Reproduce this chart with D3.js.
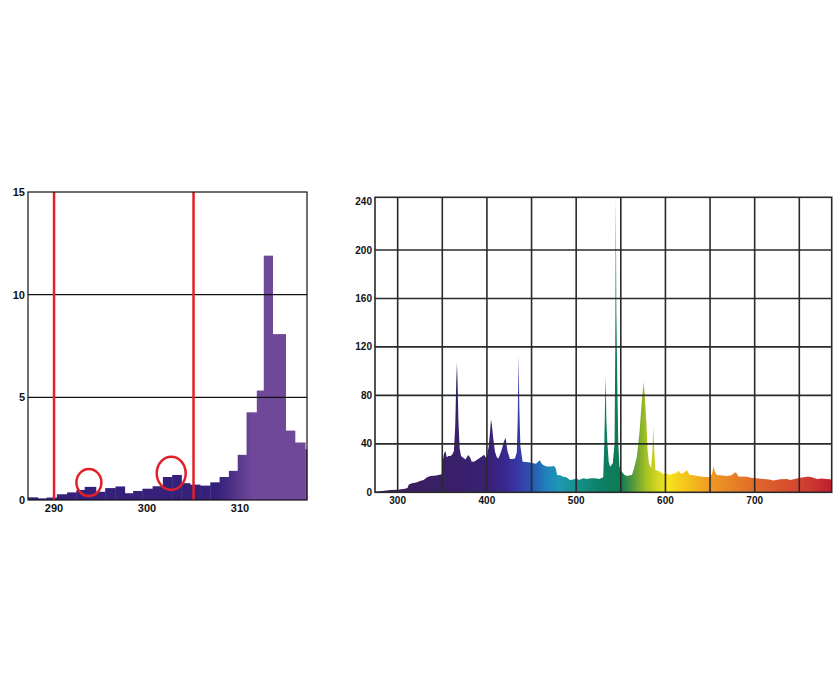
<!DOCTYPE html>
<html>
<head>
<meta charset="utf-8">
<script src="https://cdn.jsdelivr.net/npm/d3@7/dist/d3.min.js"></script>
<style>
  html, body { margin: 0; padding: 0; background: #fff; }
  text { font-family: "Liberation Sans", Arial, sans-serif; font-weight: bold; fill: #111; }
</style>
</head>
<body>
<svg id="chart" width="840" height="700"></svg>
<script>
// ---------- LEFT CHART DATA (UV-B histogram) ----------
const binEdges = [287.2, 288.25, 289.2, 290.3, 291.4, 292.4, 293.3, 294.5, 295.5, 296.6, 297.6, 298.5, 299.5, 300.6, 301.7, 302.7, 303.7, 304.6, 305.7, 306.8, 307.8, 308.8, 309.75, 310.7, 311.8, 312.55, 313.5, 314.9, 315.9, 317.0, 317.2];
const binValues = [0.13, 0.08, 0.12, 0.28, 0.37, 0.49, 0.64, 0.40, 0.58, 0.66, 0.33, 0.44, 0.55, 0.67, 1.12, 1.22, 0.82, 0.75, 0.70, 0.86, 1.12, 1.42, 2.2, 4.27, 5.33, 11.9, 8.08, 3.38, 2.8, 2.47];
const leftYTicks = [0, 5, 10, 15];
const leftYGrid = [5, 10];
const leftXTicks = [290, 300, 310];
const markerLines = [290, 305];
const circleX = [293.75, 302.6];
const circleY = [0.85, 1.30];

// ---------- RIGHT CHART DATA (full spectrum) ----------
const specNm = [275, 285, 292, 300, 308, 311, 312.5, 316, 321, 325, 329, 333, 337, 343, 349.5, 350.5, 352, 353.5, 355, 357, 359, 361, 363, 364.5, 365.6, 366.4, 367.2, 368, 369.5, 371, 373.5, 376, 379, 381, 383, 386, 388.5, 391, 394, 396.7, 399.7, 402, 403.5, 404.5, 405.5, 407, 409, 411, 413, 416.5, 419, 421, 423, 425.8, 428, 431.4, 433.5, 434.5, 435.5, 436.3, 437.5, 440, 444, 448, 452, 455, 457, 459.4, 461, 463, 467, 471, 475, 477, 478.8, 482, 485.5, 489, 493, 497, 500.5, 503, 508, 512, 516, 521, 526, 529, 530.3, 531.5, 532.5, 533.1, 533.8, 535, 536.5, 538, 541, 543, 543.8, 544.4, 545, 546.2, 547.2, 548.5, 551, 554, 557, 560, 562.5, 565, 568, 571, 573.5, 575.6, 577, 578.5, 580, 581.5, 584, 585.5, 586.5, 587.5, 588.8, 592, 594, 598, 601.4, 605, 609, 612.6, 614.5, 617, 620.1, 623.9, 627, 631.4, 636, 642, 650, 652.5, 653.8, 655.5, 657.5, 662, 668.7, 674, 678, 680, 682, 685.5, 691, 696, 702, 710, 716, 721, 728.5, 736, 740, 745, 750.9, 755, 758.4, 762, 766, 769.6, 775, 780.8, 786.5];
const specVal = [0.5, 1.2, 1.9, 2.2, 3.0, 3.6, 6.5, 7.5, 8, 9.4, 10.2, 12.5, 13.5, 13.8, 14.8, 26, 32, 34, 29, 30, 30, 31, 34, 55, 90, 107, 90, 60, 36, 30, 28.5, 27, 30.8, 29, 25.3, 25.5, 26.7, 28, 29.4, 31, 28, 38, 50, 60, 56, 45, 33.6, 29, 28, 35, 42, 45, 34, 27.5, 27.5, 28, 33, 60, 113, 70, 38, 25.3, 25, 24.5, 24, 23.5, 25, 26.5, 24, 22.6, 21.2, 21.2, 21.7, 20, 14.3, 14, 12.9, 12.5, 10.2, 10.5, 11.6, 10.2, 11.5, 11, 11.5, 11.6, 11, 12, 12.4, 40, 80, 95.5, 60, 40, 25, 21, 24, 40, 120, 243, 150, 84, 40, 21, 17, 14.5, 13.5, 14, 14.3, 20, 29.4, 50, 75, 91, 78, 60, 35, 24, 19.8, 35, 55, 35, 18.4, 17.5, 17, 15, 15.7, 14.3, 15.5, 16.2, 17.9, 15.5, 15.7, 18.4, 14.5, 14, 13.5, 12.9, 12.4, 16, 21.2, 17, 14.3, 14, 13.5, 14, 16.5, 15.5, 12.9, 13, 12.9, 12, 11.5, 11, 10.5, 9.8, 10.7, 11, 10.2, 11, 12, 12.5, 12.9, 12.8, 12, 10.9, 11.4, 11, 10.5];
const rightYTicks = [0, 40, 80, 120, 160, 200, 240];
const rightYGrid = [40, 80, 120, 160, 200];
const rightXGrid = [300, 350, 400, 450, 500, 550, 600, 650, 700, 750];
const rightXTicks = [300, 400, 500, 600, 700];
const gradNm = [280, 400, 420, 435, 450, 465, 480, 500, 530, 550, 565, 578, 592, 603, 625, 650, 700, 750, 786];
const gradColor = ["#3a1f58", "#392072", "#3a2790", "#3838a6", "#2a55b0", "#1f7fba", "#1e97b6", "#16918c", "#0c7e62", "#0f7a55", "#5c9c3c", "#a3c021", "#d8d722", "#f6e31d", "#f4c21b", "#ef9a22", "#e06a2a", "#d44430", "#bf1f2e"];

const svg = d3.select("#chart");
svg.append("rect").attr("width", 840).attr("height", 700).attr("fill", "#fff");
const defs = svg.append("defs");

// ================= LEFT CHART =================
const L = { left: 28, right: 307, top: 192, bottom: 500 };
const lx = d3.scaleLinear().domain([287.2, 317.2]).range([L.left, L.right]);
const ly = d3.scaleLinear().domain([0, 15]).range([L.bottom, L.top]);

const lg = defs.append("linearGradient").attr("id", "leftGrad")
  .attr("gradientUnits", "userSpaceOnUse")
  .attr("x1", lx(307.6)).attr("x2", lx(311.3)).attr("y1", 0).attr("y2", 0);
lg.append("stop").attr("offset", 0).attr("stop-color", "#35207a");
lg.append("stop").attr("offset", 1).attr("stop-color", "#704899");

const bins = binValues.map((v, i) => ({ x0: binEdges[i], x1: binEdges[i + 1], v }));
const gL = svg.append("g");
gL.selectAll("rect.bar").data(bins).enter().append("rect")
  .attr("x", d => lx(d.x0)).attr("width", d => lx(d.x1) - lx(d.x0) + 0.4)
  .attr("y", d => ly(d.v)).attr("height", d => ly(0) - ly(d.v))
  .attr("fill", "url(#leftGrad)");

gL.selectAll("line.hg").data(leftYGrid).enter().append("line")
  .attr("x1", L.left).attr("x2", L.right).attr("y1", d => ly(d)).attr("y2", d => ly(d))
  .attr("stroke", "#111").attr("stroke-width", 1.2);

gL.selectAll("line.red").data(markerLines).enter().append("line")
  .attr("x1", d => lx(d)).attr("x2", d => lx(d)).attr("y1", L.top).attr("y2", L.bottom)
  .attr("stroke", "#e3202a").attr("stroke-width", 2.5);

const circR = [[12.5, 13.5], [14.5, 16.5]];
gL.selectAll("ellipse").data(circleX).enter().append("ellipse")
  .attr("cx", d => lx(d)).attr("cy", (d, i) => ly(circleY[i]))
  .attr("rx", (d, i) => circR[i][0]).attr("ry", (d, i) => circR[i][1])
  .attr("fill", "none").attr("stroke", "#e3202a").attr("stroke-width", 2.5);

gL.append("rect").attr("x", L.left).attr("y", L.top)
  .attr("width", L.right - L.left).attr("height", L.bottom - L.top)
  .attr("fill", "none").attr("stroke", "#111").attr("stroke-width", 1.2);

gL.selectAll("text.yl").data(leftYTicks).enter().append("text")
  .attr("x", L.left - 3).attr("y", d => ly(d)).attr("dy", "0.35em")
  .attr("text-anchor", "end").attr("font-size", 11).text(d => d);
gL.selectAll("text.xl").data(leftXTicks).enter().append("text")
  .attr("x", d => lx(d)).attr("y", L.bottom + 8).attr("dy", "0.35em")
  .attr("text-anchor", "middle").attr("font-size", 11).text(d => d);

// ================= RIGHT CHART =================
const R = { left: 375, right: 831.7, top: 197.3, bottom: 492.3 };
const rx = d3.scaleLinear().domain([274.6, 786.3]).range([R.left, R.right]);
const ry = d3.scaleLinear().domain([0, 243.5]).range([R.bottom, R.top]);

const rg = defs.append("linearGradient").attr("id", "specGrad")
  .attr("gradientUnits", "userSpaceOnUse")
  .attr("x1", rx(gradNm[0])).attr("x2", rx(gradNm[gradNm.length - 1])).attr("y1", 0).attr("y2", 0);
const span = gradNm[gradNm.length - 1] - gradNm[0];
gradNm.forEach((n, i) => {
  rg.append("stop").attr("offset", (n - gradNm[0]) / span).attr("stop-color", gradColor[i]);
});

const spec = specNm.map((n, i) => ({ n, v: specVal[i] }));
const area = d3.area().x(d => rx(d.n)).y0(ry(0)).y1(d => ry(d.v)).curve(d3.curveLinear);
const gR = svg.append("g");
gR.append("path").datum(spec).attr("d", area).attr("fill", "url(#specGrad)");

gR.selectAll("line.hg").data(rightYGrid).enter().append("line")
  .attr("x1", R.left).attr("x2", R.right).attr("y1", d => ry(d)).attr("y2", d => ry(d))
  .attr("stroke", "#2a2a2a").attr("stroke-width", 1.6);
gR.selectAll("line.vg").data(rightXGrid).enter().append("line")
  .attr("x1", d => rx(d)).attr("x2", d => rx(d)).attr("y1", R.top).attr("y2", R.bottom)
  .attr("stroke", "#2a2a2a").attr("stroke-width", 1.6);
gR.append("rect").attr("x", R.left).attr("y", R.top)
  .attr("width", R.right - R.left).attr("height", R.bottom - R.top)
  .attr("fill", "none").attr("stroke", "#2a2a2a").attr("stroke-width", 1.6);

gR.selectAll("text.yl").data(rightYTicks).enter().append("text")
  .attr("x", R.left - 3).attr("y", d => ry(d)).attr("dy", "0.35em")
  .attr("text-anchor", "end").attr("font-size", 10).text(d => d);
gR.selectAll("text.xl").data(rightXTicks).enter().append("text")
  .attr("x", d => rx(d)).attr("y", R.bottom + 8.5).attr("dy", "0.35em")
  .attr("text-anchor", "middle").attr("font-size", 10).text(d => d);
</script>
</body>
</html>
